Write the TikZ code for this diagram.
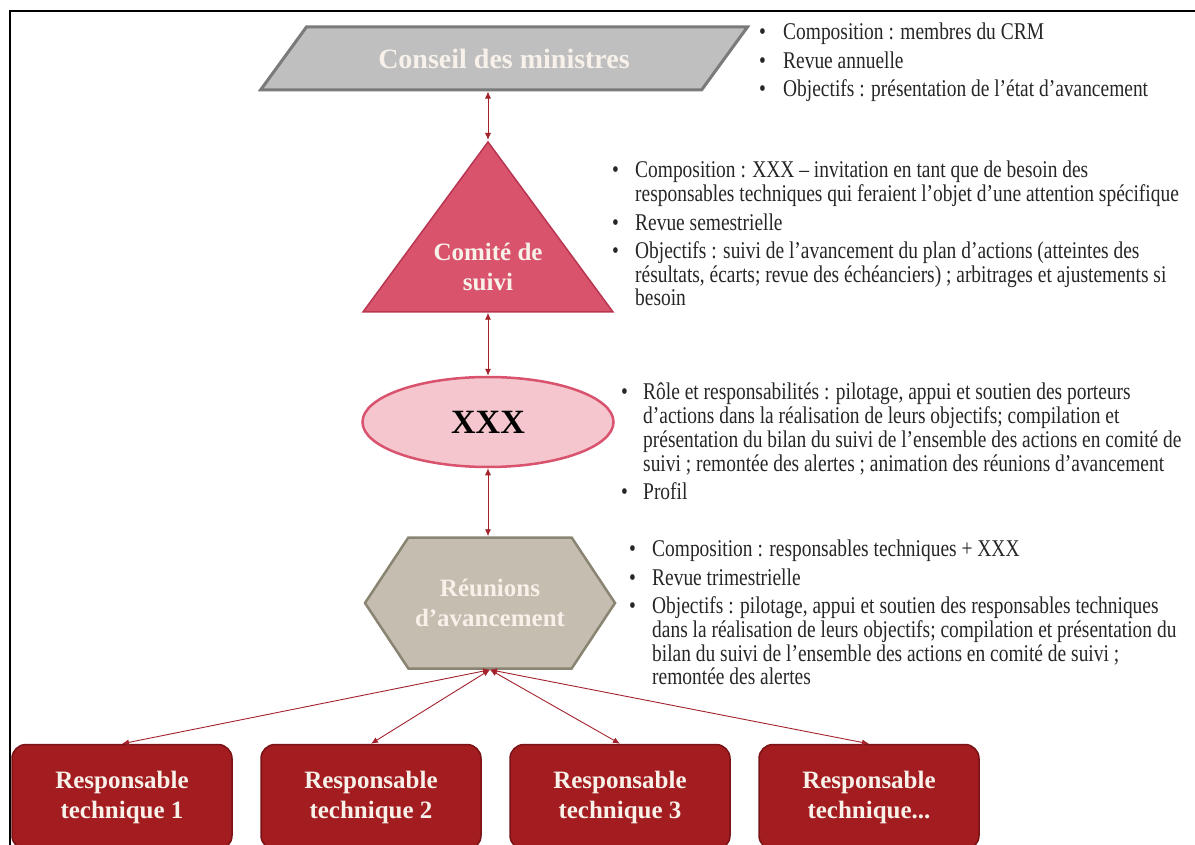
\documentclass[tikz,border=0pt]{standalone}
\usepackage{fontspec}
\setmainfont{Liberation Serif}
\newfontfamily\corps[FakeStretch=0.81]{Liberation Serif}
\newfontfamily\titre{Liberation Serif}
\usepackage{tikz}
\usetikzlibrary{shapes.geometric,shapes.symbols,arrows.meta}
\definecolor{gris}{HTML}{BFBFBF}
\definecolor{grisbord}{HTML}{7A7A7A}
\definecolor{framboise}{HTML}{D8536B}
\definecolor{framboisebord}{HTML}{B83652}
\definecolor{rose}{HTML}{F5C6CD}
\definecolor{rosebord}{HTML}{D9526E}
\definecolor{taupe}{HTML}{C4BDB0}
\definecolor{taupebord}{HTML}{8A8472}
\definecolor{bordeaux}{HTML}{A31C20}
\definecolor{bordeauxbord}{HTML}{7A1216}
\definecolor{fleche}{HTML}{A3222C}
\definecolor{creme}{HTML}{F7F1EA}

\begin{document}
\begin{tikzpicture}[x=1pt,y=-1pt,
    lien/.style={{Latex[length=7pt,width=6pt]}-{Latex[length=7pt,width=6pt]},draw=fleche,line width=0.9pt},
    liste/.style={anchor=north west,inner sep=0pt,text=black!85,font=\corps\fontsize{24}{23.5}\selectfont},
    etiquette/.style={align=center,font=\titre\bfseries\fontsize{25}{30}\selectfont},
    responsable/.style={rectangle,rounded corners=14pt,fill=bordeaux,draw=bordeauxbord,line width=1.5pt,
        minimum width=220pt,minimum height=105pt,text=creme,etiquette}]
    \useasboundingbox (0,0) rectangle (1195,845);
    \clip (0,0) rectangle (1195,845);
    \draw[line width=2pt] (10,850) -- (10,11) -- (1197,11);

    \node[trapezium,trapezium left angle=34,trapezium right angle=146,trapezium stretches=true,
        minimum width=488pt,minimum height=63pt,inner sep=0pt,fill=gris,draw=grisbord,line width=3pt,
        text=creme,etiquette,font=\titre\bfseries\fontsize{28}{32}\selectfont] (conseil) at (504,58.5) {Conseil des ministres};
    \node[isosceles triangle,shape border rotate=90,isosceles triangle stretches=true,
        minimum width=250pt,minimum height=170pt,inner sep=0pt,fill=framboise,draw=framboisebord,line width=1.5pt,
        anchor=apex,label={[anchor=center,yshift=46pt,text=creme,etiquette]south:Comité de\\suivi}] (comite) at (488,140) {};
    \node[ellipse,minimum width=251pt,minimum height=90pt,fill=rose,draw=rosebord,line width=2.5pt,
        font=\titre\bfseries\fontsize{34}{40}\selectfont] (xxx) at (488,422) {XXX};
    \node[signal,signal to=west and east,signal pointer angle=113,minimum width=250pt,minimum height=131pt,
        inner sep=0pt,fill=taupe,draw=taupebord,line width=2.5pt,text=creme,etiquette] (reunion) at (490,603) {Réunions\\d’avancement};

    \node[responsable] (rt1) at (122,797) {Responsable\\technique 1};
    \node[responsable] (rt2) at (371,797) {Responsable\\technique 2};
    \node[responsable] (rt3) at (620,797) {Responsable\\technique 3};
    \node[responsable] (rt4) at (869,797) {Responsable\\technique...};

    \draw[lien] (comite.apex |- conseil.south) -- (comite.apex);
    \draw[lien] (comite.south) -- (xxx.north);
    \draw[lien] (xxx.south) -- (xxx.south |- reunion.north);
    \draw[lien] (reunion.south) -- (rt1.north);
    \draw[lien] (reunion.south) -- (rt2.north);
    \draw[lien] (reunion.south) -- (rt3.north);
    \draw[lien] (reunion.south) -- (rt4.north);

    \node[liste] (notec) at (759,23) {\begin{tabular}{@{}p{24pt}@{}l@{}}
        \textbullet & Composition : membres du CRM\\[4.5pt]
        \textbullet & Revue annuelle\\[4.5pt]
        \textbullet & Objectifs : présentation de l’état d’avancement
    \end{tabular}};
    \node[liste] (notes) at (612,161) {\begin{tabular}{@{}p{23pt}@{}l@{}}
        \textbullet & Composition : XXX – invitation en tant que de besoin des\\
        & responsables techniques qui feraient l’objet d’une attention spécifique\\[4.5pt]
        \textbullet & Revue semestrielle\\[4.5pt]
        \textbullet & Objectifs : suivi de l’avancement du plan d’actions (atteintes des\\
        & résultats, écarts; revue des échéanciers) ; arbitrages et ajustements si\\
        & besoin
    \end{tabular}};
    \node[liste] (notex) at (621,383) {\begin{tabular}{@{}p{22pt}@{}l@{}}
        \textbullet & Rôle et responsabilités : pilotage, appui et soutien des porteurs\\
        & d’actions dans la réalisation de leurs objectifs; compilation et\\
        & présentation du bilan du suivi de l’ensemble des actions en comité de\\
        & suivi ; remontée des alertes ; animation des réunions d’avancement\\[4.5pt]
        \textbullet & Profil
    \end{tabular}};
    \node[liste] (noter) at (629,540) {\begin{tabular}{@{}p{23pt}@{}l@{}}
        \textbullet & Composition : responsables techniques + XXX\\[4.5pt]
        \textbullet & Revue trimestrielle\\[4.5pt]
        \textbullet & Objectifs : pilotage, appui et soutien des responsables techniques\\
        & dans la réalisation de leurs objectifs; compilation et présentation du\\
        & bilan du suivi de l’ensemble des actions en comité de suivi ;\\
        & remontée des alertes
    \end{tabular}};
\end{tikzpicture}
\end{document}
